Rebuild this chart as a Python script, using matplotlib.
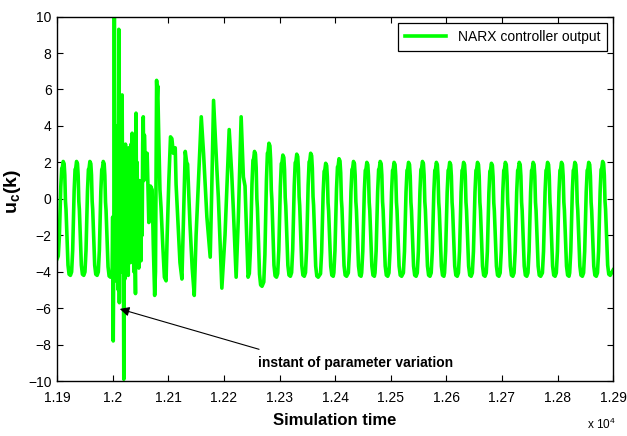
import numpy as np
import matplotlib
matplotlib.use('Agg')
import matplotlib.pyplot as plt

plt.rcParams['font.family'] = ['Liberation Sans', 'DejaVu Sans']
plt.rcParams['mathtext.fontset'] = 'custom'
plt.rcParams['mathtext.bf'] = 'Liberation Sans:bold'
plt.rcParams['mathtext.rm'] = 'Liberation Sans'

# ---- one oscillation cycle (phase re. peak, level 0=trough 1=peak)
shape_phase = [-0.5, -0.41, -0.33, -0.22, -0.15, -0.10, -0.04, 0.03, 0.08, 0.13, 0.17, 0.24, 0.32, 0.40, 0.5]
shape_level = [0.0, 0.03, 0.22, 0.74, 0.93, 0.94, 1.0, 0.98, 0.88, 0.65, 0.58, 0.36, 0.09, 0.01, 0.0]

# ---- steady oscillation before the parameter change
pre_peak_t = [11912, 11936, 11960, 11984]
pre_peak_u = [2.05, 2.05, 2.05, 2.05]
pre_trough_u = [-3.3, -4.2, -4.2, -4.2, -4.3]
pre_period = 24

# ---- transient after the parameter change (vertices)
trans_t = [11999, 12000, 12001, 12002, 12003, 12004, 12005, 12006, 12007, 12008,
           12009, 12010, 12011, 12012, 12013, 12014, 12015, 12016, 12017, 12018,
           12019, 12020, 12021, 12022, 12023, 12024, 12025, 12026, 12027, 12028,
           12029, 12030, 12031, 12032, 12033, 12034, 12035, 12036, 12037, 12038,
           12039, 12040, 12041, 12042, 12043, 12044, 12045, 12046, 12047, 12048,
           12049, 12050, 12051, 12052, 12053, 12054, 12055, 12056, 12057, 12059,
           12062, 12065, 12068, 12071, 12073, 12075.5, 12077, 12079, 12080, 12081,
           12083, 12085, 12087, 12090, 12093, 12096, 12098, 12101, 12104, 12106.5,
           12109, 12112.5, 12114, 12117, 12121, 12124.5, 12127, 12130.5, 12133, 12134.7,
           12139, 12143, 12146.7, 12150, 12154.5, 12159.3, 12163.4, 12169.4, 12175.4, 12178,
           12181.4, 12187.4, 12190, 12196.3, 12202, 12209.5, 12214, 12217, 12222, 12226,
           12231, 12235, 12238]
trans_u = [-4.0, -1.0, -7.8, -3.0, 10.0, -2.0, 1.5, -4.5, 4.0, -3.5,
           2.5, -5.0, 9.3, -5.7, 3.0, -3.0, 4.7, -4.0, 5.7, -2.0,
           0.5, -9.9, 2.0, -4.4, 3.0, -2.5, 2.0, -3.8, 1.0, -4.2,
           2.8, -2.0, 2.5, -3.5, 3.0, -3.0, 3.6, -1.0, 1.0, -4.0,
           0.5, -3.0, -5.2, 4.7, -1.0, 2.0, -3.5, 0.0, -3.8, 1.0,
           -3.0, -0.5, -3.4, 1.0, -2.0, 3.0, 4.5, 1.0, 3.5, 1.6,
           2.5, -1.3, 0.7, 0.5, -2.5, -5.3, -4.0, 6.5, 5.5, 6.2,
           3.2, 0.5, -0.5, -2.5, -4.3, -4.5, -2.0, 1.0, 3.4, 3.3,
           2.5, 2.8, 0.8, -1.0, -3.5, -4.4, -1.5, 2.6, 2.0, 1.9,
           -1.4, -3.8, -5.3, -2.0, 1.2, 4.5, 2.5, -1.0, -3.2, 0.3,
           5.4, 1.6, 0.1, -4.9, -2.0, 3.8, 1.4, -0.6, -4.3, -1.0,
           4.5, 1.2, 0.7]

# ---- steady oscillation after the transient
post_peak_t = [12256, 12282, 12307, 12332, 12357, 12384, 12408, 12434, 12458, 12482,
               12507, 12533, 12558, 12583, 12607, 12632, 12657, 12682, 12707, 12732,
               12757, 12783, 12808, 12832, 12857, 12882]
post_peak_u = [2.6, 3.05, 2.4, 2.45, 2.5, 1.95, 2.2, 2.05, 2.0, 2.05,
               2.0, 2.0, 2.05, 2.0, 2.0, 2.0, 2.0, 1.95, 2.0, 2.0,
               2.0, 2.0, 2.0, 2.0, 2.0, 2.05]
post_trough_u = [-4.3, -4.8, -4.3, -4.25, -4.25, -4.3, -4.25, -4.25, -4.25, -4.25,
                 -4.25, -4.25, -4.25, -4.25, -4.25, -4.25, -4.25, -4.25, -4.25, -4.25,
                 -4.25, -4.25, -4.25, -4.25, -4.25, -4.25, -4.2]
post_period = 25.1
end_t = [12900]
end_u = [-3.9]


def cycles(peak_t, peak_u, trough_u, period):
    ts, us = [], []
    for i, (tp, up) in enumerate(zip(peak_t, peak_u)):
        for ph, lv in zip(shape_phase, shape_level):
            if i > 0 and ph == -0.5:
                continue
            tr = trough_u[i] if ph < 0 else trough_u[i + 1]
            ts.append(tp + ph * period)
            us.append(tr + lv * (up - tr))
    return ts, us


t1, u1 = cycles(pre_peak_t, pre_peak_u, pre_trough_u, pre_period)
t3, u3 = cycles(post_peak_t, post_peak_u, post_trough_u, post_period)
t = np.array(t1 + trans_t + t3 + end_t)
u = np.array(u1 + trans_u + u3 + end_u)

fig = plt.figure(figsize=(6.27, 4.36), dpi=100)
ax = fig.add_axes([0.091, 0.126, 0.887, 0.836])
ax.plot(t, u, color='#00ff00', lw=2.6, label='NARX controller output')

ax.set_xlim(11900, 12900)
ax.set_ylim(-10, 10)
xt = np.arange(11900, 12901, 100)
ax.set_xticks(xt)
ax.set_xticklabels(['{:g}'.format(v / 1e4) for v in xt])
ax.set_yticks(np.arange(-10, 11, 2))
ax.tick_params(direction='in', top=True, right=True, length=4, width=0.8, labelsize=10)
ax.tick_params(axis='x', pad=7)
ax.tick_params(axis='y', pad=4)
for s in ax.spines.values():
    s.set_linewidth(1.0)

ax.set_xlabel('Simulation time', fontsize=12, fontweight='bold', labelpad=6)
ax.set_ylabel(r'$\mathbf{u_c(k)}$', fontsize=14)
ax.yaxis.set_label_coords(-0.062, 0.52)

fig.text(0.936, 0.027, r'x 10$^4$', fontsize=8.5, ha='left', va='center')

ax.annotate('', xy=(12008, -6.0), xytext=(12268, -8.3),
            arrowprops=dict(arrowstyle='-|>', color='k', lw=0.8, mutation_scale=14))
ax.text(12261, -9.0, 'instant of parameter variation', fontsize=10, fontweight='bold',
        ha='left', va='center')

leg = ax.legend(loc='upper right', fontsize=10, frameon=True, fancybox=False,
                edgecolor='k', framealpha=1, handlelength=3.0, handletextpad=0.8,
                borderpad=0.5, borderaxespad=0.45)
leg.get_frame().set_linewidth(0.9)

fig.savefig('out.png', dpi=100)
